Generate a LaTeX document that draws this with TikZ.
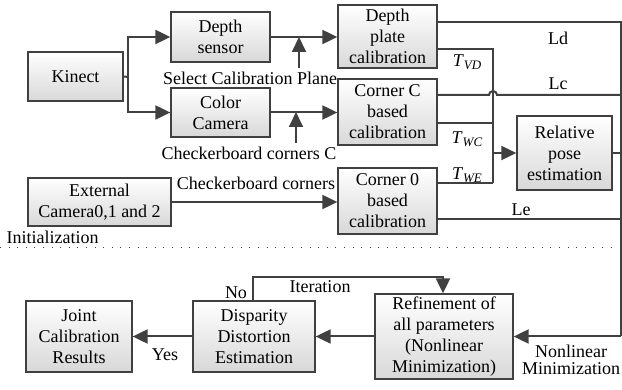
\documentclass[tikz,border=0pt]{standalone}
\usepackage{fontspec}
\setmainfont{Liberation Serif}
\usetikzlibrary{arrows.meta, positioning, calc}
\definecolor{edge}{HTML}{404040}
\definecolor{shade}{HTML}{D8D8D8}
\newcommand{\tlabel}[1]{\textit{T}\raisebox{-2.5pt}{\fontsize{13}{13}\selectfont\textit{#1}}}

\begin{document}
\begin{tikzpicture}[x=1pt, y=-1pt, font=\fontsize{18}{21}\selectfont,
    box/.style={draw=edge, line width=1.3pt, top color=white, bottom color=shade, align=center, inner sep=0pt},
    wire/.style={draw=edge, line width=2pt},
    arr/.style={wire, -{Triangle[length=15pt, width=14pt]}}]
  \useasboundingbox (0,0) rectangle (622,390);
      \node[box, minimum width=95, minimum height=49] (kinect) at (75.5,76.5) {Kinect};
      \node[box, minimum width=99, minimum height=50] (depth) at (220.5,37) {Depth\\sensor};
      \node[box, minimum width=99, minimum height=49] (color) at (220.5,112.5) {Color\\Camera};
      \node[box, minimum width=143, minimum height=48] (ext) at (99.5,202) {External\\Camera0,1 and 2};
      \node[box, minimum width=99, minimum height=63] (dplate) at (387.5,36.5) {Depth\\plate\\calibration};
      \node[box, minimum width=99, minimum height=66] (cornc) at (387.5,112) {Corner C\\based\\calibration};
      \node[box, minimum width=99, minimum height=66] (corn0) at (387.5,201) {Corner 0\\based\\calibration};
      \node[box, minimum width=95, minimum height=74] (pose) at (564.5,153) {Relative\\pose\\estimation};
      \node[box, minimum width=106, minimum height=71] (joint) at (79,336.5) {Joint\\Calibration\\Results};
      \node[box, minimum width=122, minimum height=71] (disp) at (254,336.5) {Disparity\\Distortion\\Estimation};
      \node[box, minimum width=138, minimum height=85] (refine) at (444,336.5) {Refinement of\\all parameters\\(Nonlinear\\Minimization)};

      \node (selp) at (250,78) {Select Calibration Plane};
      \node (cornl) at (249,153) {Checkerboard corners C};
      \node (cornl0) at (256,183) {Checkerboard corners};
      \node[anchor=west] (init) at (3,237) {Initialization};
      \node (ld) at (558,38) {Ld};
      \node (lc) at (558,84) {Lc};
      \node (le) at (521,210) {Le};
      \node (tvd) at (467,62) {\tlabel{VD}};
      \node (twc) at (467,139) {\tlabel{WC}};
      \node (twe) at (467,175) {\tlabel{WE}};
      \node (yes) at (165,355) {Yes};
      \node (no) at (236,293) {No};
      \node (iter) at (320,287) {Iteration};
      \node[align=center, font=\fontsize{18}{17}\selectfont] (nlm) at (571,360) {Nonlinear\\Minimization};

      \coordinate (kj) at (128,77);
      \coordinate (sp) at (299,37);
      \coordinate (cp) at (296,112);
      \coordinate (rt) at (621,22);
      \coordinate (rb) at (621,336.5);
      \coordinate (jt) at (493,49);
      \coordinate (jb) at (493,183);
      \coordinate (jm) at (493,153);
      \coordinate (hop) at (489,95);
      \coordinate (lcr) at (621,95);
      \coordinate (lp) at (253,277);
      \coordinate (rp) at (443,277);
      \coordinate (dl) at (0,248);
      \coordinate (dr) at (618,248);

      \draw[wire] (kinect.east) -- (kj);
      \draw[arr] (kj) |- (depth.west);
      \draw[arr] (kj) |- (color.west);
      \draw[arr] (depth.east) -- (dplate.west |- depth.east);
      \draw[arr] (selp.north -| sp) -- (sp);
      \draw[arr] (color.east) -- (cornc.west |- color.east);
      \draw[arr] (cornl.north -| cp) -- (cp);
      \draw[arr] (ext.east) -- (corn0.west |- ext.east);

      \draw[wire] (dplate.east |- rt) -- (rt) -- (rb);
      \draw[arr] (rb) -- (refine.east);
      \draw[wire] (dplate.east |- jt) -- (jt) -- (jb);
      \draw[wire] (cornc.east |- hop) -- (hop) arc[start angle=180, end angle=360, radius=4] -- (lcr);
      \draw[wire] ([yshift=-11pt]cornc.east) -- ++(56,0);
      \draw[wire] ([yshift=18pt]corn0.east) -- (jb);
      \draw[arr] (jm) -- (pose.west);
      \draw[wire] (pose.east) -- (pose.east -| rt);
      \draw[wire] ([yshift=-18pt]corn0.east) -- ++(184,0);

      \draw[edge, line width=1pt, dash pattern=on 1pt off 7.6pt] (dl) -- (dr);

      \draw[arr] (refine.west) -- (disp.east);
      \draw[arr] (disp.west) -- (joint.east);
      \draw[arr] (disp.north -| lp) -- (lp) -- (rp) -- (refine.north -| rp);
    \end{tikzpicture}
\end{document}
